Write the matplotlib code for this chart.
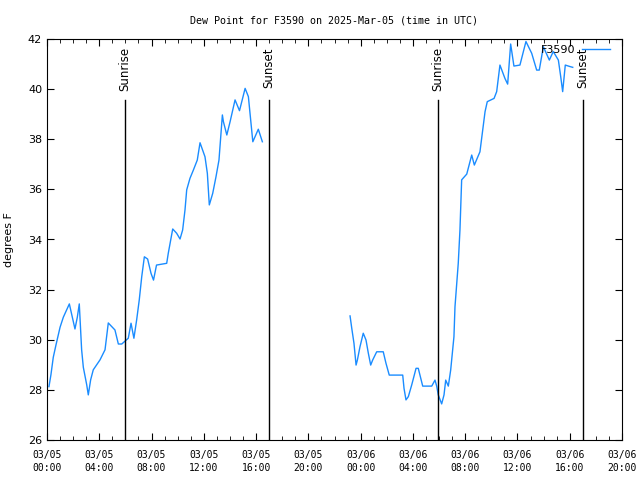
import numpy as np
import matplotlib
matplotlib.use('Agg')
import matplotlib.pyplot as plt

# hours since 2025-03-05 00:00 UTC, dew point in degrees F
t1 = [0.15, 0.3, 0.48, 0.69, 1.0, 1.25, 1.71, 2.14, 2.32, 2.47, 2.58, 2.65, 2.78,
      3.04, 3.16, 3.34, 3.54, 4.06, 4.44, 4.69, 5.2, 5.46, 5.72, 6.22, 6.43, 6.65,
      6.86, 7.06, 7.25, 7.45, 7.7, 7.96, 8.15, 8.38, 9.16, 9.28, 9.62, 9.92, 10.18,
      10.38, 10.56, 10.69, 10.94, 11.2, 11.5, 11.71, 12.09, 12.27, 12.42, 12.68,
      12.93, 13.16, 13.29, 13.42, 13.5, 13.76, 14.01, 14.39, 14.73, 15.16, 15.41,
      15.59, 15.75, 15.92, 16.17, 16.48]
v1 = [28.13, 28.6, 29.3, 29.8, 30.5, 30.9, 31.43, 30.43, 30.9, 31.43, 30.3, 29.6,
      28.9, 28.2, 27.8, 28.4, 28.8, 29.2, 29.6, 30.67, 30.39, 29.83, 29.83, 30.06,
      30.66, 30.06, 30.79, 31.59, 32.52, 33.31, 33.22, 32.65, 32.38, 32.98, 33.05,
      33.45, 34.42, 34.25, 34.02, 34.38, 35.18, 35.98, 36.44, 36.77, 37.17, 37.86,
      37.3, 36.64, 35.38, 35.84, 36.5, 37.17, 38.1, 38.97, 38.7, 38.17, 38.7, 39.57,
      39.14, 40.03, 39.7, 38.77, 37.9, 38.1, 38.4, 37.9]

t2 = [23.19, 23.32, 23.49, 23.65, 23.75, 23.95, 24.2, 24.41, 24.59, 24.77, 24.92,
      25.23, 25.73, 25.94, 26.19, 27.22, 27.32, 27.47, 27.65, 27.91, 28.24, 28.41,
      28.75, 29.44, 29.69, 29.82, 29.94, 30.2, 30.38, 30.51, 30.71, 30.89, 31.14,
      31.22, 31.47, 31.6, 31.73, 32.12, 32.5, 32.7, 33.13, 33.34, 33.52, 33.69,
      34.21, 34.41, 34.66, 35.04, 35.25, 35.48, 35.73, 36.19, 36.65, 37.09, 37.47,
      37.67, 37.98, 38.44, 38.74, 39.13, 39.31, 39.46, 39.66, 40.02, 40.23]
v2 = [30.95, 30.46, 29.86, 28.99, 29.19, 29.72, 30.26, 29.99, 29.46, 28.99, 29.19,
      29.52, 29.52, 29.06, 28.59, 28.59, 28.06, 27.6, 27.73, 28.2, 28.86, 28.86,
      28.15, 28.15, 28.39, 28.15, 27.8, 27.44, 27.8, 28.39, 28.15, 28.79, 30.12,
      31.32, 33.05, 34.38, 36.38, 36.61, 37.37, 36.97, 37.5, 38.37, 39.1, 39.5,
      39.63, 39.9, 40.96, 40.43, 40.2, 41.8, 40.92, 40.96, 41.9, 41.43, 40.76, 40.76,
      41.69, 41.16, 41.5, 41.16, 40.5, 39.9, 40.96, 40.9, 40.87]

sun_times = [5.97, 16.99, 29.92, 41.02]
sun_labels = ['Sunrise', 'Sunset', 'Sunrise', 'Sunset']

tick_hours = list(range(0, 45, 4))
tick_labels = ['03/05\n00:00', '03/05\n04:00', '03/05\n08:00', '03/05\n12:00',
               '03/05\n16:00', '03/05\n20:00', '03/06\n00:00', '03/06\n04:00',
               '03/06\n08:00', '03/06\n12:00', '03/06\n16:00', '03/06\n20:00']

t = t1 + [np.nan] + t2
v = v1 + [np.nan] + v2

fig = plt.figure(figsize=(6.4, 4.8), dpi=100)
ax = fig.add_axes([47/640, 40/480, 575/640, 401/480])

ax.plot(t, v, color='#1a8cff', lw=1, label='F3590')
for st, sl in zip(sun_times, sun_labels):
    ax.axvline(st, ymin=0, ymax=0.848, color='black', lw=1)
    ax.text(st, 0.98, sl, transform=ax.get_xaxis_transform(), rotation=90,
            ha='center', va='top', fontsize=8.5, family='DejaVu Sans')

ax.set_xlim(0, 44)
ax.set_ylim(26, 42)
ax.set_xticks(tick_hours)
ax.set_xticklabels(tick_labels, family='DejaVu Sans Mono', fontsize=7,
                   linespacing=1.45)
ax.set_xticks(range(0, 45), minor=True)
ax.set_yticks(range(26, 43, 2))
ax.tick_params(axis='both', which='both', direction='in', top=True, right=True)
ax.tick_params(axis='both', which='major', length=5)
ax.tick_params(axis='x', which='major', pad=7)
ax.tick_params(axis='x', which='minor', length=3)
ax.tick_params(axis='y', labelsize=8)
ax.set_ylabel('degrees F', fontsize=8, labelpad=10)
ax.set_title('Dew Point for F3590 on 2025-Mar-05 (time in UTC)',
             family='DejaVu Sans Mono', fontsize=7.2, pad=11)
ax.legend(loc='upper right', bbox_to_anchor=(0.987, 0.997), frameon=False,
          fontsize=8, handlelength=2.5, markerfirst=False, borderaxespad=0,
          handletextpad=0.6)

fig.savefig('out.png', dpi=100)
